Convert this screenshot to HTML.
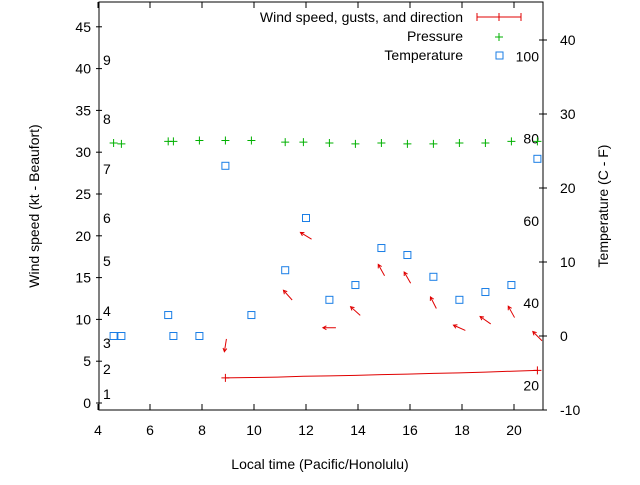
<!DOCTYPE html>
<html><head><meta charset="utf-8"><style>
body{margin:0;background:#fff;}
svg text{font-family:"Liberation Sans",sans-serif;font-size:14px;fill:#000;}
</style></head><body>
<svg id="chart" width="640" height="480" xmlns="http://www.w3.org/2000/svg"></svg>
<script>
const hours=[4.6,4.9,6.7,6.9,7.9,8.9,9.9,11.2,11.9,12.9,13.9,14.9,15.9,16.9,17.9,18.9,19.9,20.9];
const pressure=[31.1,31.0,31.3,31.3,31.4,31.4,31.4,31.2,31.2,31.1,31.0,31.1,31.0,31.0,31.1,31.1,31.3,31.3];
const tempHours=[4.6,4.9,6.7,6.9,7.9,8.9,9.9,11.2,12.0,12.9,13.9,14.9,15.9,16.9,17.9,18.9,19.9,20.9];
const tempF=[32,32,37.1,32,32,73.4,37.1,48,60.7,40.8,44.4,53.4,51.7,46.4,40.8,42.7,44.4,75.1];
const windHours=[8.9,9.9,10.9,11.9,12.9,13.9,14.9,15.9,16.9,17.9,18.9,19.9,20.9];
const windSpeed=[3.0,3.05,3.1,3.2,3.25,3.3,3.4,3.45,3.55,3.6,3.7,3.8,3.9];
const arrowHours=[8.9,11.3,12.0,12.9,13.9,14.9,15.9,16.9,17.9,18.9,19.9,20.9];
const gust=[6.9,12.9,20.0,9.0,11.0,15.9,15.0,12.0,9.0,9.9,10.9,8.0];
const heading=[189,318,301,270,312,331,330,333,294,305,331,315];
const xTicks=[4,6,8,10,12,14,16,18,20];
const yTicks=[0,5,10,15,20,25,30,35,40,45];
const y2Ticks=[-10,0,10,20,30,40];
const beaufort=[1,2,3,4,5,6,7,8,9];
const bfY=[394,369,343,311,261,218,169,119,60];
const fLabels=[20,40,60,80,100];

const L=99,R=543,T=2,B=410;
const X=v=>98+(v-4)*26;
const Y=v=>403-v*8.36;
const Y2=c=>336-c*7.4;
const svg=document.getElementById('chart');
const NS='http://www.w3.org/2000/svg';
function mk(tag,attrs,parent){const e=document.createElementNS(NS,tag);for(const k in attrs)e.setAttribute(k,attrs[k]);(parent||svg).appendChild(e);return e;}
function txt(x,y,s,anchor,name){const t=mk('text',{x:x,y:y,'text-anchor':anchor||'start'});t.textContent=s;return t;}

const frame=mk('rect',{x:L,y:T,width:R-L,height:B-T,fill:'none',stroke:'#000','stroke-width':1});



xTicks.forEach(v=>{const x=X(v);
 const t=mk('path',{d:`M${x},${B}v-6M${x},${T}v6`,stroke:'#000'});
 
 txt(x,B+25,String(v),'middle','x-tick-label');});
yTicks.forEach(v=>{const y=Y(v);
 const t=mk('path',{d:`M${L-3},${y}h6`,stroke:'#000'});
 
 txt(L-8,y+5,String(v),'end','y-tick-label');});
y2Ticks.forEach(v=>{const y=Y2(v);
 const t=mk('path',{d:`M${R-4},${y}h8`,stroke:'#000'});
 
 txt(R+17,y+5,String(v),'start','y2-tick-label');});
beaufort.forEach((b,i)=>txt(103,bfY[i]+5,String(b),'start','beaufort-label'));
fLabels.forEach(f=>txt(539,Y2((f-32)/1.8)+5,String(f),'end','fahrenheit-label'));

txt(320,469,'Local time (Pacific/Honolulu)','middle','x-axis-title');
const yt=txt(0,0,'Wind speed (kt - Beaufort)','middle','y-axis-title');yt.setAttribute('transform','translate(39,206) rotate(-90)');
const yt2=txt(0,0,'Temperature (C - F)','middle','y2-axis-title');yt2.setAttribute('transform','translate(608,206) rotate(-90)');

hours.forEach((h,i)=>{const x=X(h),y=Y(pressure[i]);
 const p=mk('path',{d:`M${x-4},${y}h8M${x},${y-4}v8`,stroke:'#00b000'});
 });
tempHours.forEach((h,i)=>{const x=X(h),y=Y2((tempF[i]-32)/1.8);
 const r=mk('rect',{x:x-3.5,y:y-3.5,width:7,height:7,fill:'none',stroke:'#1a7ee6'});
 });
let d='';windHours.forEach((h,i)=>{d+=(i?'L':'M')+X(h)+','+Y(windSpeed[i]);});
const wl=mk('path',{d:d,fill:'none',stroke:'#e00000'});

[0,windHours.length-1].forEach(i=>{const x=X(windHours[i]),y=Y(windSpeed[i]);
 const c=mk('path',{d:`M${x-4},${y}h8M${x},${y-4}v8`,stroke:'#e00000'});
 });
arrowHours.forEach((h,i)=>{const cx=X(h),cy=Y(gust[i]);const a=heading[i]*Math.PI/180;
 const dx=Math.sin(a)*6.5,dy=-Math.cos(a)*6.5;
 const hx=cx+dx,hy=cy+dy;const ba=Math.atan2(-dy,-dx);
 const p1=[hx+4*Math.cos(ba+0.5),hy+4*Math.sin(ba+0.5)],p2=[hx+4*Math.cos(ba-0.5),hy+4*Math.sin(ba-0.5)];
 const ar=mk('path',{d:`M${cx-dx},${cy-dy}L${hx},${hy}M${p1[0]},${p1[1]}L${hx},${hy}L${p2[0]},${p2[1]}`,stroke:'#e00000',fill:'none'});
 });

txt(463,22,'Wind speed, gusts, and direction','end','legend-wind-label');
const lw=mk('path',{d:'M477,17h44M477,13v8M499,13v8M521,13v8',stroke:'#e00000'});

txt(463,41,'Pressure','end','legend-pressure-label');
const lp=mk('path',{d:'M495,37h8M499,33v8',stroke:'#00b000'});

txt(463,60,'Temperature','end','legend-temperature-label');
const lt=mk('rect',{x:496,y:52,width:7,height:7,fill:'none',stroke:'#1a7ee6'});

</script>
</body></html>
